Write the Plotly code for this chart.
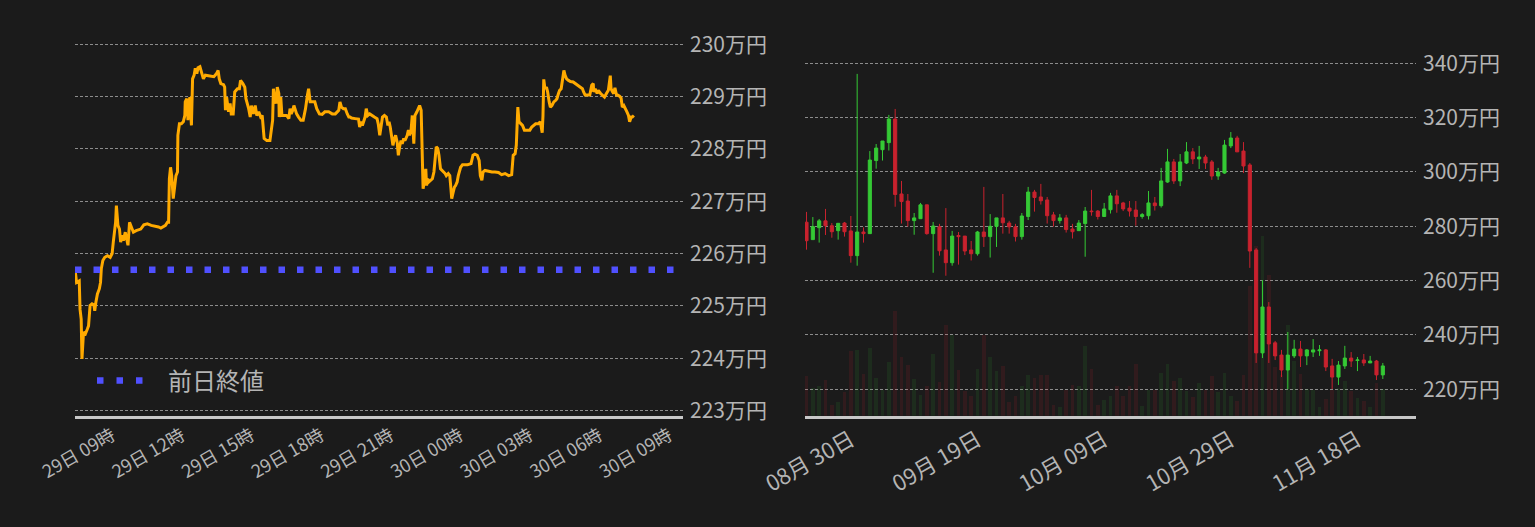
import pandas as pd
import plotly.graph_objects as go

# ---- intraday line (left) ----
LINE_START = "2022-11-29 07:24"
line_minutes = [
    0, 4, 11, 13, 16, 18, 22, 27, 32, 35, 39, 44, 49, 51, 54, 58, 63, 66, 68, 72,
    77, 84, 91, 96, 99, 103, 105, 107, 111, 115, 118, 122, 125, 130, 134, 137, 141, 146, 151, 158,
    170, 178, 187, 197, 208, 216, 222, 228, 234, 239, 242, 244, 247, 250, 254, 258, 261, 265, 266, 270,
    275, 280, 284, 285, 289, 291, 292, 294, 297, 301, 304, 308, 311, 315, 318, 323, 328, 332, 337, 349,
    359, 366, 370, 373, 377, 384, 387, 389, 392, 397, 401, 404, 409, 413, 420, 425, 428, 434, 439, 442,
    446, 449, 453, 456, 461, 466, 470, 475, 480, 484, 489, 496, 504, 508, 511, 513, 516, 520, 523, 527,
    528, 532, 535, 541, 547, 553, 556, 559, 563, 566, 570, 573, 578, 584, 590, 596, 601, 604, 608, 613,
    620, 625, 632, 639, 646, 656, 665, 673, 682, 685, 689, 694, 699, 704, 708, 711, 715, 724, 733, 736,
    740, 743, 746, 750, 753, 757, 762, 767, 774, 781, 784, 788, 791, 795, 800, 805, 809, 812, 815, 819,
    822, 826, 829, 833, 836, 840, 843, 846, 850, 853, 859, 862, 865, 869, 872, 876, 879, 884, 888, 891,
    895, 898, 900, 903, 907, 909, 912, 915, 919, 924, 928, 931, 934, 938, 941, 945, 948, 953, 957, 960,
    965, 969, 972, 974, 978, 981, 984, 988, 991, 997, 1002, 1009, 1015, 1024, 1029, 1034, 1040, 1045, 1048, 1052,
    1055, 1060, 1069, 1078, 1086, 1095, 1103, 1112, 1121, 1129, 1133, 1138, 1141, 1145, 1148, 1152, 1157, 1162, 1169, 1176,
    1181, 1186, 1191, 1198, 1203, 1208, 1210, 1212, 1215, 1219, 1222, 1226, 1229, 1233, 1238, 1243, 1246, 1250, 1253, 1257,
    1260, 1264, 1267, 1271, 1276, 1281, 1288, 1293, 1300, 1307, 1312, 1315, 1319, 1324, 1331, 1336, 1340, 1341, 1345, 1350,
    1353, 1359, 1364, 1369, 1374, 1379, 1384, 1386, 1390, 1393, 1396, 1400, 1403, 1408, 1412, 1415, 1419, 1422, 1427, 1431,
    1434, 1438, 1441, 1445,
]
line_prices = [
    2257100, 2254500, 2254800, 2249400, 2247500, 2239900, 2245000, 2244700, 2245600, 2246200,
    2250100, 2250400, 2250200, 2249100, 2250700, 2252300, 2253300, 2254500, 2257100, 2258700,
    2259300, 2259600, 2259300, 2260000, 2262200, 2265100, 2266000, 2269200, 2265400, 2264700,
    2262200, 2263500, 2262500, 2264100, 2262200, 2261600, 2266000, 2265100, 2264100, 2264400,
    2264700, 2265500, 2265700, 2265400, 2265300, 2265100, 2264900, 2265100, 2265400, 2266000,
    2266000, 2274300, 2276500, 2274900, 2270500, 2273000, 2274900, 2275600, 2282600, 2284800,
    2284800, 2285200, 2286400, 2289000, 2289600, 2288700, 2285500, 2288300, 2289900, 2284500,
    2293400, 2294100, 2295400, 2294400, 2295500, 2295700, 2294400, 2293400, 2294100, 2294000,
    2293800, 2294400, 2295000, 2293400, 2292500, 2292300, 2291800, 2287400, 2289900, 2287100,
    2288700, 2286700, 2286700, 2290900, 2291500, 2291500, 2293100, 2292500, 2291800, 2289600,
    2288700, 2287700, 2286100, 2288300, 2286700, 2288300, 2286400, 2287100, 2286100, 2286400,
    2282000, 2281600, 2281600, 2284500, 2285500, 2291500, 2289600, 2288700, 2291800, 2290600,
    2286100, 2289900, 2286400, 2286400, 2286400, 2285800, 2287700, 2286700, 2287400, 2288300,
    2287400, 2286700, 2286100, 2285500, 2285500, 2287700, 2290300, 2291500, 2289000, 2289000,
    2289000, 2287700, 2286700, 2286600, 2287100, 2287100, 2286700, 2286700, 2287400, 2289000,
    2288000, 2287700, 2287700, 2286700, 2286100, 2286100, 2285900, 2285800, 2285700, 2284200,
    2285200, 2284500, 2285200, 2286100, 2287700, 2286400, 2286700, 2286400, 2286100, 2285800,
    2284800, 2282600, 2284500, 2286100, 2286400, 2286100, 2284500, 2285200, 2284200, 2282600,
    2280700, 2282000, 2282600, 2281300, 2278800, 2280700, 2281600, 2281000, 2282000, 2281600,
    2282600, 2283600, 2282600, 2283600, 2286400, 2281000, 2286400, 2287100, 2287700, 2288300,
    2287400, 2280100, 2272400, 2273700, 2276200, 2273000, 2274300, 2273700, 2274000, 2274300,
    2275600, 2278800, 2280400, 2280100, 2278800, 2276200, 2275900, 2275600, 2275300, 2274900,
    2275300, 2274900, 2272400, 2270500, 2271800, 2272700, 2273000, 2273700, 2274900, 2276500,
    2277000, 2277000, 2277000, 2277200, 2278800, 2279000, 2278800, 2277800, 2274900, 2274000,
    2275600, 2275900, 2275700, 2275600, 2275600, 2275500, 2275100, 2275300, 2274900, 2275100,
    2278800, 2279100, 2280700, 2288000, 2285200, 2284800, 2284500, 2283600, 2283600, 2283600,
    2284200, 2284500, 2284800, 2284800, 2285200, 2283100, 2286400, 2293300, 2291500, 2291800,
    2290900, 2289000, 2288000, 2288300, 2289000, 2289300, 2289600, 2290600, 2291200, 2291500,
    2293400, 2295000, 2294100, 2293400, 2293100, 2292900, 2292800, 2292500, 2292200, 2291800,
    2291500, 2290900, 2290300, 2290300, 2290300, 2292200, 2292500, 2290900, 2291500, 2290600,
    2291200, 2290600, 2290300, 2289900, 2290600, 2291200, 2294000, 2291500, 2290900, 2290600,
    2291700, 2290300, 2290300, 2290100, 2289700, 2288000, 2288300, 2287700, 2287100, 2286400,
    2285200, 2286100, 2286100, 2286400,
]
prev_close = 2256940
left_x_range = ["2022-11-29 07:24", "2022-11-30 09:36"]
left_tick_times = pd.date_range("2022-11-29 09:00", "2022-11-30 09:00", freq="3h")
left_tick_text = ["29日 09時", "29日 12時", "29日 15時", "29日 18時", "29日 21時",
                  "30日 00時", "30日 03時", "30日 06時", "30日 09時"]
left_y_ticks = list(range(2230000, 2300001, 10000))
left_y_text = ["223万円", "224万円", "225万円", "226万円", "227万円", "228万円", "229万円", "230万円"]

# ---- daily candles (right), prices in 万円 ----
candle_start = "2022-08-23"
c_open = [
    281.5, 275.1, 279.5, 282.0, 280.2, 278.4, 281.2, 278.3, 269.2, 277.9,
    277.3, 304.2, 308.2, 310.8, 319.5, 291.9, 289.3, 282.1, 282.8, 287.9,
    277.3, 279.8, 271.3, 266.6, 276.6, 276.4, 271.3, 269.9, 277.9, 276.2,
    280.0, 283.1, 281.2, 279.8, 276.2, 283.6, 292.6, 290.8, 289.7, 284.2,
    282.1, 283.1, 279.0, 278.4, 281.0, 285.6, 285.6, 283.6, 286.1, 291.2,
    288.6, 286.7, 286.0, 283.6, 283.9, 288.6, 287.6, 296.3, 303.7, 296.7,
    303.3, 307.4, 304.8, 305.5, 303.7, 298.5, 299.6, 309.6, 312.5, 307.7,
    302.6, 271.3, 233.4, 250.3, 237.1, 232.6, 227.1, 232.3, 234.8, 232.3,
    233.7, 234.2, 234.5, 228.6, 224.5, 228.6, 231.5, 230.6, 230.8, 229.7,
    230.4, 225.3,
]
c_high = [
    285.3, 283.4, 282.7, 286.4, 281.2, 281.1, 281.6, 283.8, 336.1, 279.6,
    307.7, 310.3, 311.4, 321.0, 323.2, 296.7, 291.9, 284.9, 288.6, 287.9,
    281.6, 280.9, 286.7, 278.3, 277.9, 276.4, 274.6, 278.3, 294.5, 284.5,
    283.1, 291.9, 282.0, 280.9, 284.9, 294.5, 293.4, 295.6, 290.8, 285.3,
    284.5, 284.2, 280.9, 282.3, 287.1, 293.4, 286.0, 288.6, 292.3, 293.4,
    289.0, 289.3, 289.3, 284.9, 293.0, 290.8, 301.5, 308.5, 304.8, 306.6,
    311.0, 308.8, 309.6, 306.3, 304.4, 301.5, 311.8, 314.7, 313.3, 311.0,
    303.3, 272.0, 260.2, 252.1, 237.8, 234.5, 241.1, 238.2, 237.8, 234.8,
    238.5, 236.3, 234.8, 231.2, 230.4, 236.0, 233.7, 231.9, 233.0, 232.3,
    230.8, 229.7,
]
c_low = [
    271.4, 275.1, 274.0, 276.8, 275.8, 275.1, 276.2, 266.6, 265.5, 274.0,
    277.3, 301.2, 304.2, 307.9, 287.2, 281.0, 279.9, 276.9, 282.8, 276.9,
    262.9, 269.2, 261.8, 265.5, 265.9, 269.4, 267.4, 269.2, 272.4, 268.5,
    272.4, 277.3, 277.3, 274.4, 275.1, 282.3, 285.4, 288.0, 281.0, 279.9,
    281.0, 277.7, 275.5, 278.4, 268.8, 283.9, 282.5, 283.6, 284.7, 285.0,
    285.6, 283.6, 280.2, 282.8, 282.5, 285.8, 286.9, 296.0, 295.6, 294.8,
    302.9, 302.9, 301.1, 301.1, 297.1, 297.1, 299.3, 308.8, 307.4, 299.6,
    264.7, 229.7, 231.5, 229.7, 230.8, 224.5, 220.1, 231.5, 228.2, 228.9,
    231.9, 232.3, 226.7, 220.1, 221.6, 227.5, 228.2, 226.7, 228.6, 229.7,
    223.4, 223.8,
]
c_close = [
    274.7, 279.9, 282.0, 280.2, 278.0, 281.1, 278.0, 269.2, 277.9, 277.3,
    304.4, 308.8, 311.4, 319.5, 291.7, 289.1, 282.1, 283.1, 287.9, 277.3,
    280.1, 271.0, 266.6, 276.4, 276.2, 270.9, 269.9, 277.9, 276.2, 280.0,
    283.1, 281.3, 279.8, 276.2, 283.8, 292.6, 290.6, 289.4, 283.9, 282.1,
    283.1, 278.8, 278.0, 281.2, 285.6, 285.4, 283.6, 286.4, 291.2, 288.3,
    286.4, 285.6, 283.6, 284.3, 288.6, 287.6, 296.7, 303.7, 296.7, 303.7,
    307.4, 304.8, 305.5, 303.3, 298.5, 300.0, 309.9, 312.5, 307.4, 302.2,
    270.9, 233.4, 250.3, 236.7, 232.3, 227.1, 232.6, 234.8, 232.3, 234.5,
    234.5, 234.5, 228.2, 224.5, 228.9, 231.5, 230.4, 230.8, 229.7, 230.4,
    225.3, 228.6,
]
c_volume = [
    397, 280, 297, 357, 107, 140, 240, 647, 657, 417,
    677, 377, 257, 537, 1047, 587, 507, 367, 207, 297,
    617, 337, 907, 807, 457, 247, 197, 467, 807, 587,
    447, 497, 137, 197, 297, 407, 377, 407, 407, 107,
    87, 257, 307, 297, 697, 467, 107, 157, 197, 297,
    197, 297, 517, 97, 257, 257, 427, 517, 347, 377,
    247, 187, 327, 257, 397, 237, 427, 197, 147, 407,
    1297, 1697, 1797, 1407, 487, 407, 907, 547, 417, 267,
    257, 87, 167, 257, 273, 347, 247, 177, 147, 87,
    327, 267,
]
right_x_range = ["2022-08-22 18:19", "2022-11-27 05:45"]
right_tick_dates = ["2022-08-30", "2022-09-19", "2022-10-09", "2022-10-29", "2022-11-18"]
right_tick_text = ["08月 30日", "09月 19日", "10月 09日", "10月 29日", "11月 18日"]
right_y_ticks = [220, 240, 260, 280, 300, 320, 340]
right_y_text = ["220万円", "240万円", "260万円", "280万円", "300万円", "320万円", "340万円"]

BG = "#1b1b1b"
TEXT = "#b4b4b4"
GRID = "#8c8c8c"
UP = "#35c935"
DOWN = "#c8222e"
FONT = "Noto Sans CJK JP"
W, H = 1535, 527

line_x = pd.Timestamp(LINE_START) + pd.to_timedelta(line_minutes, unit="min")
candle_dates = pd.date_range(candle_start, periods=len(c_open), freq="D")
vol_colors = ["rgba(53,201,53,0.10)" if c >= o else "rgba(200,34,46,0.13)"
              for o, c in zip(c_open, c_close)]

fig = go.Figure()

fig.add_trace(go.Scatter(
    x=line_x, y=line_prices, mode="lines",
    line=dict(color="#ffaa00", width=3),
    showlegend=False, xaxis="x", yaxis="y",
))
# previous close: the drawn line, plus a legend-only twin with a 3-dot sample
fig.add_trace(go.Scatter(
    x=left_x_range, y=[prev_close, prev_close], mode="lines",
    line=dict(color="#5050ff", width=6.5, dash="6.5px,12px"),
    showlegend=False, xaxis="x", yaxis="y",
))
fig.add_trace(go.Scatter(
    x=[None], y=[None], mode="lines", name="前日終値",
    line=dict(color="#5050ff", width=6.5,
              dash="6.5px,13px,6.5px,13px,6.5px,300px"),
    xaxis="x", yaxis="y",
))

fig.add_trace(go.Bar(
    x=candle_dates, y=c_volume, marker=dict(color=vol_colors, line=dict(width=0)),
    width=0.62 * 86400000, showlegend=False, xaxis="x2", yaxis="y3",
))
fig.add_trace(go.Candlestick(
    x=candle_dates, open=c_open, high=c_high, low=c_low, close=c_close,
    increasing=dict(line=dict(color=UP, width=1), fillcolor=UP),
    decreasing=dict(line=dict(color=DOWN, width=1), fillcolor=DOWN),
    whiskerwidth=0, showlegend=False, xaxis="x2", yaxis="y2",
))

left_bottom = 1 - 415.7 / H
left_top = 1 - 30 / H
right_bottom = 1 - 415.7 / H
right_top = 1 - 40 / H

yaxis_common = dict(
    side="right", showgrid=True, gridcolor=GRID, gridwidth=1, griddash="3px,2px",
    zeroline=False, showline=False, ticks="", ticklabelstandoff=6, automargin=False,
    tickfont=dict(size=21, color=TEXT, family=FONT),
)
xaxis_common = dict(
    type="date", showgrid=False, zeroline=False, showline=True, automargin=False,
    linecolor="#c8c8c8", linewidth=2.5, ticks="", tickangle=-30,
)

fig.update_layout(
    width=W, height=H,
    paper_bgcolor=BG, plot_bgcolor=BG,
    margin=dict(l=0, r=0, t=0, b=0, pad=0),
    font=dict(family=FONT, color=TEXT),
    xaxis=dict(
        xaxis_common, domain=[75 / W, 683 / W], anchor="y",
        range=left_x_range, tickvals=left_tick_times, ticktext=left_tick_text,
        tickfont=dict(size=18, color=TEXT, family=FONT),
    ),
    yaxis=dict(
        yaxis_common, domain=[left_bottom, left_top], anchor="x",
        range=[2229040, 2302730], tickvals=left_y_ticks, ticktext=left_y_text,
    ),
    xaxis2=dict(
        xaxis_common, domain=[805 / W, 1416 / W], anchor="y2",
        range=right_x_range, tickvals=right_tick_dates, ticktext=right_tick_text,
        tickfont=dict(size=22, color=TEXT, family=FONT),
        rangeslider=dict(visible=False),
    ),
    yaxis2=dict(
        yaxis_common, domain=[right_bottom, right_top], anchor="x2",
        range=[210.28, 348.58], tickvals=right_y_ticks, ticktext=right_y_text,
    ),
    yaxis3=dict(
        overlaying="y2", anchor="x2", range=[0, 3757], visible=False,
    ),
    legend=dict(
        x=92 / W, y=1 - 381 / H, xanchor="left", yanchor="middle",
        bgcolor="rgba(0,0,0,0)", font=dict(size=24, color=TEXT, family=FONT),
        itemwidth=66,
    ),
    bargap=0,
)

fig.write_html(
    "out.html",
    config={"displayModeBar": False},
    post_script="document.body.style.margin='0';document.body.style.background='#1b1b1b';",
)
